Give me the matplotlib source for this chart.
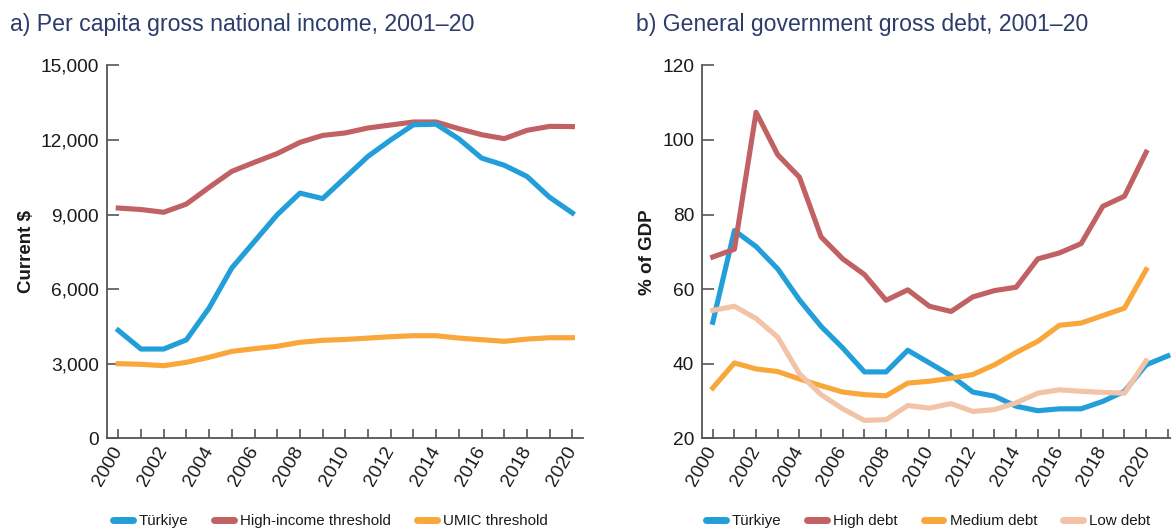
import matplotlib
matplotlib.use("Agg")
import matplotlib.pyplot as plt
from matplotlib.lines import Line2D

# ---------------- data ----------------
years_a = list(range(2000, 2021))
turkiye_gni = [4340, 3590, 3590, 3960, 5240, 6850, 7920, 8990, 9860, 9640,
               10490, 11340, 12000, 12610, 12630, 12040, 11270, 10980, 10530, 9690, 9060]
high_income_threshold = [9260, 9200, 9090, 9420, 10090, 10735, 11100, 11450, 11900, 12180,
                         12280, 12480, 12600, 12720, 12720, 12450, 12210, 12050, 12385, 12545, 12535]
umic_threshold = [3000, 2975, 2920, 3055, 3260, 3495, 3605, 3700, 3860, 3940,
                  3975, 4030, 4085, 4125, 4125, 4030, 3965, 3900, 3990, 4045, 4045]

years_b_tr = list(range(2000, 2022))
turkiye_debt = [51.1, 75.7, 71.4, 65.4, 57.1, 50.0, 44.2, 37.8, 37.8, 43.6, 40.2,
                36.8, 32.4, 31.3, 28.6, 27.4, 27.9, 27.9, 29.9, 32.6, 39.7, 42.1]
years_b = list(range(2000, 2021))
high_debt = [68.6, 70.7, 107.4, 96.0, 90.0, 74.0, 68.1, 63.9, 57.0, 59.8, 55.4,
             54.0, 57.9, 59.6, 60.5, 68.1, 69.7, 72.2, 82.2, 84.9, 96.7]
medium_debt = [33.5, 40.2, 38.6, 37.9, 35.9, 34.1, 32.4, 31.7, 31.4, 34.8, 35.3,
               36.1, 37.1, 39.7, 43.0, 46.0, 50.3, 50.9, 52.9, 54.9, 65.2]
low_debt = [54.3, 55.4, 52.1, 47.1, 37.3, 31.7, 27.9, 24.8, 25.0, 28.8, 28.1,
            29.3, 27.2, 27.7, 29.5, 32.1, 33.0, 32.6, 32.3, 32.1, 40.8]

title_a = "a) Per capita gross national income, 2001\u201320"
title_b = "b) General government gross debt, 2001\u201320"
ylabel_a = "Current $"
ylabel_b = "% of GDP"
legend_a = ["Türkiye", "High-income threshold", "UMIC threshold"]
legend_b = ["Türkiye", "High debt", "Medium debt", "Low debt"]
yticks_a = [0, 3000, 6000, 9000, 12000, 15000]
yticks_b = [20, 40, 60, 80, 100, 120]

# ---------------- style ----------------
BLUE = "#229fd9"
RED = "#c16163"
ORANGE = "#f9a73a"
PEACH = "#f2c3a7"
NAVY = "#2c3d6c"
SPINE = "#555555"
TXT = "#1a1a1a"
LW = 3.7

FONT = ["Liberation Sans", "DejaVu Sans"]
plt.rcParams["font.family"] = FONT

W, H = 1171, 529
fig = plt.figure(figsize=(W / 100, H / 100), dpi=100)

def fx(px):
    return px / W

def fy(py):
    return 1 - py / H

A_L, A_R = 106.7, 583.3
B_L, B_R = 701.7, 1171.5
ax_a = fig.add_axes([fx(A_L), fy(438.3), fx(A_R - A_L), (438.3 - 65.3) / H])
ax_b = fig.add_axes([fx(B_L), fy(438.3), fx(B_R - B_L), (438.3 - 65.3) / H])


def style_axes(ax, years_ticks, yticks, fmt):
    for s in ["top", "right"]:
        ax.spines[s].set_visible(False)
    for s in ["left", "bottom"]:
        ax.spines[s].set_color(SPINE)
        ax.spines[s].set_linewidth(1.3)
    ax.set_yticks(yticks)
    ax.set_yticklabels([fmt(v) for v in yticks])
    ax.set_xticks(years_ticks)
    ax.set_xticklabels([str(y) if y % 2 == 0 else "" for y in years_ticks],
                       rotation=60, ha="right", va="center", rotation_mode="anchor")
    ax.tick_params(axis="y", direction="in", length=8.3, width=1.2, color=SPINE,
                   labelsize=13.8, labelcolor=TXT, pad=5.5)
    ax.tick_params(axis="x", direction="in", length=6.5, width=1.2, color=SPINE,
                   labelsize=13.8, labelcolor=TXT, pad=7)


# panel a
ax_a.plot(years_a, turkiye_gni, color=BLUE, lw=LW, solid_joinstyle="round", zorder=3)
ax_a.plot(years_a, high_income_threshold, color=RED, lw=LW, solid_joinstyle="round", zorder=2)
ax_a.plot(years_a, umic_threshold, color=ORANGE, lw=LW, solid_joinstyle="round", zorder=2)
ax_a.set_xlim(1999.49, 2020.48)
ax_a.set_ylim(0, 15000)
style_axes(ax_a, years_a, yticks_a, lambda v: f"{v:,}")
ax_a.set_ylabel(ylabel_a, fontsize=13.5, fontweight="bold", color=TXT)
ax_a.yaxis.set_label_coords((35 - A_L) / (A_R - A_L), 0.5)

# panel b
ax_b.plot(years_b_tr, turkiye_debt, color=BLUE, lw=LW, solid_joinstyle="round", zorder=2)
ax_b.plot(years_b, high_debt, color=RED, lw=LW, solid_joinstyle="round", zorder=3)
ax_b.plot(years_b, medium_debt, color=ORANGE, lw=LW, solid_joinstyle="round", zorder=2)
ax_b.plot(years_b, low_debt, color=PEACH, lw=LW, solid_joinstyle="round", zorder=2)
ax_b.set_xlim(1999.49, 2021.17)
ax_b.set_ylim(20, 120)
style_axes(ax_b, years_b_tr, yticks_b, lambda v: f"{v}")
ax_b.set_ylabel(ylabel_b, fontsize=13.5, fontweight="bold", color=TXT)
ax_b.yaxis.set_label_coords((656 - B_L) / (B_R - B_L), 0.5)

# titles
fig.text(fx(10), fy(24), title_a, fontsize=16.7, color=NAVY, ha="left", va="center")
fig.text(fx(636), fy(24), title_b, fontsize=16.6, color=NAVY, ha="left", va="center")

# legends
def make_legend(labels, colors, x_px):
    handles = [Line2D([], [], color=c, lw=5, solid_capstyle="round") for c in colors]
    leg = fig.legend(handles, labels, loc="center left", bbox_to_anchor=(fx(x_px), fy(521)),
                     ncol=len(labels), frameon=False, fontsize=10.9, handlelength=1.3,
                     handletextpad=0.42, columnspacing=1.7, borderpad=0, borderaxespad=0)
    for t in leg.get_texts():
        t.set_color(TXT)
    return leg

make_legend(legend_a, [BLUE, RED, ORANGE], 113)
make_legend(legend_b, [BLUE, RED, ORANGE, PEACH], 706)

fig.savefig("out.png", dpi=100)
